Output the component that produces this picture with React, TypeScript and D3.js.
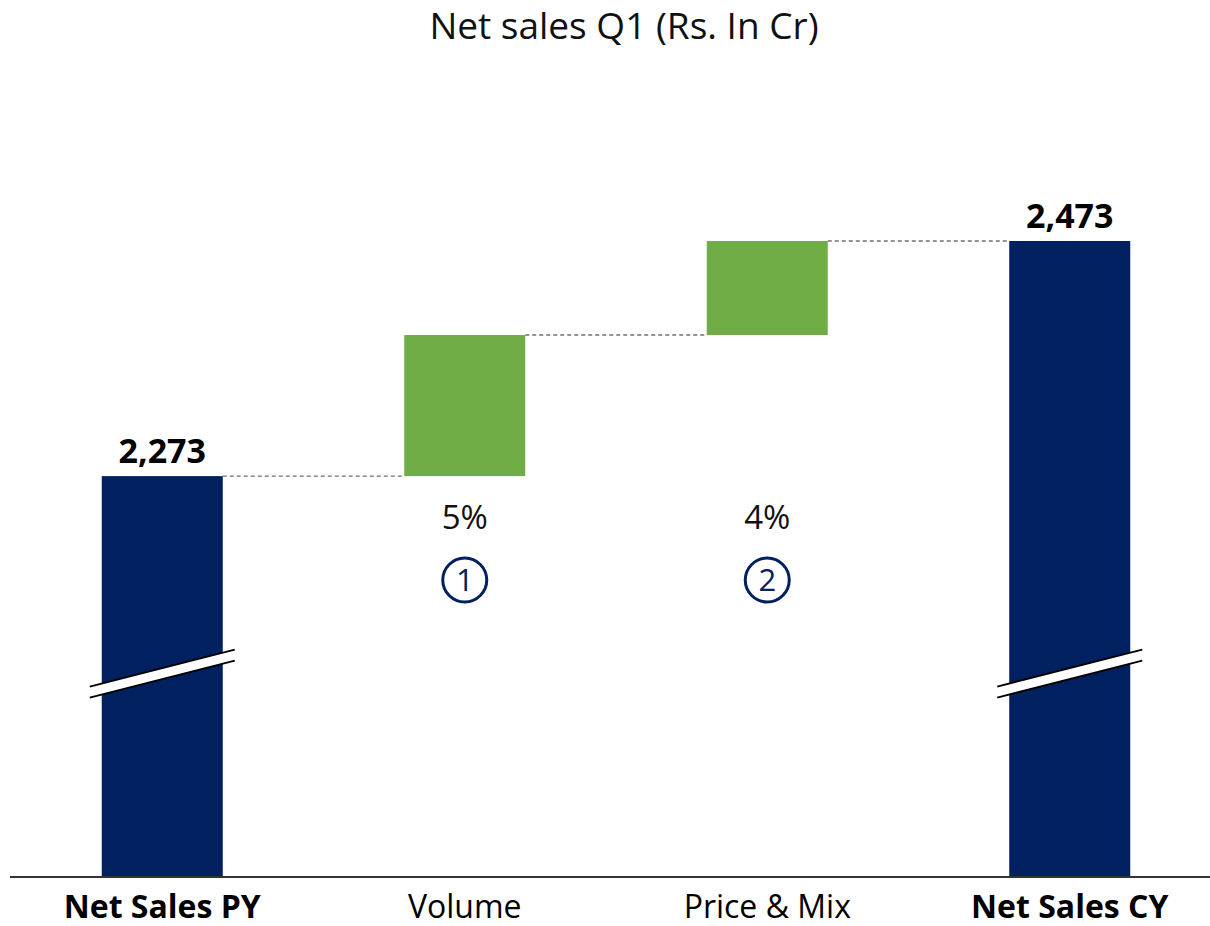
import React, { useEffect, useRef } from 'react';
import * as d3 from 'd3';

// données
const categories = ['Net Sales PY', 'Volume', 'Price & Mix', 'Net Sales CY'];
const kinds = ['total', 'delta', 'delta', 'total'];
const values = [2273, 120, 80, 2473];
const growthLabels = ['', '5%', '4%', ''];
const markers = ['', '1', '2', ''];
const yDomain = [1932, 2473];
const breakValue = 2105;

const NAVY = '#012060';
const GREEN = '#70AD47';
const FONT = '"Open Sans", "Noto Sans", sans-serif';

const App = () => {
  const ref = useRef<SVGSVGElement>(null);

  useEffect(() => {
    const W = 1210;
    const H = 926;
    const baseY = 877;
    const topY = 241;

    const svg = d3.select(ref.current);
    svg.selectAll('*').remove();
    svg.attr('width', W).attr('height', H);

    svg.append('rect').attr('width', W).attr('height', H).attr('fill', '#fff');

    const x = d3.scaleBand<string>()
      .domain(categories)
      .range([11, 1221])
      .paddingInner(0.6)
      .paddingOuter(0.3);

    const y = d3.scaleLinear().domain(yDomain).range([baseY, topY]);

    // calcul des segments du waterfall
    let running = 0;
    const bars = categories.map((c, i) => {
      if (kinds[i] === 'total') {
        running = values[i];
        return { c, i, y0: yDomain[0], y1: values[i], kind: 'total' };
      }
      const start = running;
      running += values[i];
      return { c, i, y0: start, y1: running, kind: 'delta' };
    });

    // titre
    svg.append('text')
      .attr('x', 624)
      .attr('y', 39)
      .attr('text-anchor', 'middle')
      .style('font-family', FONT)
      .style('font-size', '37px')
      .style('fill', '#111')
      .text('Net sales Q1 (Rs. In Cr)');

    // barres
    svg.selectAll('.bar')
      .data(bars)
      .enter().append('rect')
      .attr('class', 'bar')
      .attr('x', d => x(d.c)!)
      .attr('width', x.bandwidth())
      .attr('y', d => y(d.y1))
      .attr('height', d => y(d.y0) - y(d.y1))
      .attr('fill', d => (d.kind === 'total' ? NAVY : GREEN));

    // lignes pointillées entre les barres
    bars.slice(0, -1).forEach((d, i) => {
      const next = bars[i + 1];
      svg.append('line')
        .attr('x1', x(d.c)! + x.bandwidth())
        .attr('x2', x(next.c)!)
        .attr('y1', y(d.y1))
        .attr('y2', y(d.y1))
        .attr('stroke', '#6f6f6f')
        .attr('stroke-width', 1.4)
        .attr('stroke-dasharray', '4,3');
    });

    // symboles de coupure d'axe
    bars.filter(d => d.kind === 'total').forEach(d => {
      const x0 = x(d.c)! - 12;
      const x1 = x(d.c)! + x.bandwidth() + 12;
      const yc = y(breakValue);
      const slope = 37 / 2;
      const gap = 11;
      svg.append('path')
        .attr('d', `M${x0},${yc + slope - gap / 2}L${x1},${yc - slope - gap / 2}L${x1},${yc - slope + gap / 2}L${x0},${yc + slope + gap / 2}Z`)
        .attr('fill', '#fff');
      [-gap / 2, gap / 2].forEach(off => {
        svg.append('line')
          .attr('x1', x0).attr('y1', yc + slope + off)
          .attr('x2', x1).attr('y2', yc - slope + off)
          .attr('stroke', '#000')
          .attr('stroke-width', 2);
      });
    });

    // valeurs des totaux
    svg.selectAll('.val')
      .data(bars.filter(d => d.kind === 'total'))
      .enter().append('text')
      .attr('x', d => x(d.c)! + x.bandwidth() / 2)
      .attr('y', d => y(d.y1) - 13)
      .attr('text-anchor', 'middle')
      .style('font-family', FONT)
      .style('font-size', '34px')
      .style('font-weight', 'bold')
      .style('fill', '#000')
      .text(d => d3.format(',')(values[d.i]));

    // pourcentages et marqueurs numérotés
    bars.filter(d => d.kind === 'delta').forEach(d => {
      const cx = x(d.c)! + x.bandwidth() / 2;
      svg.append('text')
        .attr('x', cx)
        .attr('y', 529)
        .attr('text-anchor', 'middle')
        .style('font-family', FONT)
        .style('font-size', '33px')
        .style('fill', '#111')
        .text(growthLabels[d.i]);
      svg.append('circle')
        .attr('cx', cx)
        .attr('cy', 580)
        .attr('r', 22)
        .attr('fill', 'none')
        .attr('stroke', NAVY)
        .attr('stroke-width', 3);
      svg.append('text')
        .attr('x', cx)
        .attr('y', 580)
        .attr('dy', '0.36em')
        .attr('text-anchor', 'middle')
        .style('font-family', FONT)
        .style('font-size', '31px')
        .style('fill', NAVY)
        .text(markers[d.i]);
    });

    // axe horizontal
    const axis = svg.append('g')
      .attr('transform', `translate(0,${baseY})`)
      .call(d3.axisBottom(x).tickSize(0).tickPadding(18));
    axis.select('.domain')
      .attr('d', `M10,0H${W}`)
      .attr('stroke', '#333')
      .attr('stroke-width', 2);
    axis.selectAll('text')
      .style('font-family', FONT)
      .style('font-size', '32px')
      .style('fill', '#000')
      .style('font-weight', (c: any) => (kinds[categories.indexOf(c)] === 'total' ? 'bold' : 'normal'));
  }, []);

  return (
    <svg ref={ref} style={{ position: 'absolute', left: 0, top: 0, display: 'block' }} />
  );
};

export default App;
